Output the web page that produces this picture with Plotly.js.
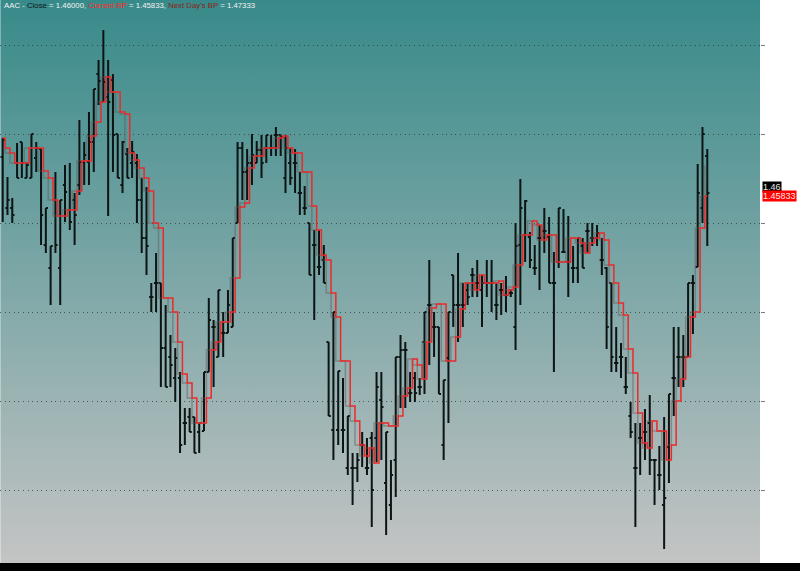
<!DOCTYPE html>
<html>
<head>
<meta charset="utf-8">
<script src="https://cdn.plot.ly/plotly-3.0.1.min.js"></script>
<style>
  html, body { margin: 0; padding: 0; background: #ffffff; }
  #wrap { position: relative; width: 800px; height: 563px; background: #ffffff; }
  #bg { position: absolute; left: 0; top: 0; width: 760px; height: 563px;
        background: linear-gradient(to bottom, rgb(56,138,138) 0%, rgb(196,196,196) 100%);
        box-shadow: inset 1px 0 0 rgba(255,255,255,0.35); }
  #chart { position: absolute; left: 0; top: 0; width: 800px; height: 563px; }
  #foot { width: 800px; height: 8px; background: #000000; }
</style>
</head>
<body>
<div id="wrap"><div id="bg"></div><div id="chart"></div></div>
<div id="foot"></div>
<script>
const ticker = "AAC";

const openP = [1.478,1.4525,1.4525,1.475,1.4855,1.4675,1.4675,1.4775,1.482,1.434,
1.4225,1.4565,1.4225,1.464,1.4515,1.4565,1.464,1.4755,1.4755,1.4855,
1.5195,1.5055,1.508,1.5165,1.4895,1.464,1.4795,1.475,1.475,1.4565,
1.4375,1.408,1.415,1.415,1.3825,1.378,1.3675,1.3675,1.345,1.348,
1.348,1.3405,1.341,1.3705,1.393,1.378,1.39,1.39,1.393,1.445,
1.4825,1.4705,1.475,1.475,1.4815,1.4825,1.4825,1.489,1.489,1.4675,
1.475,1.475,1.46,1.4525,1.445,1.434,1.423,1.4265,1.3855,1.3415,
1.3415,1.3415,1.3225,1.3225,1.3225,1.334,1.3225,1.3375,1.3375,1.3565,
1.315,1.304,1.3265,1.378,1.3815,1.36,1.3675,1.363,1.3855,1.404,
1.393,1.393,1.334,1.3775,1.419,1.404,1.404,1.4115,1.419,1.415,
1.4115,1.415,1.415,1.404,1.4115,1.409,1.41,1.393,1.434,1.439,
1.438,1.4225,1.4375,1.441,1.438,1.415,1.4255,1.4305,1.4255,1.4225,
1.4225,1.4335,1.441,1.4375,1.4375,1.4265,1.4225,1.415,1.375,1.378,
1.363,1.3485,1.3225,1.3375,1.3405,1.345,1.3265,1.319,1.304,1.333,
1.3675,1.378,1.378,1.378,1.415,1.423,1.4525,1.4785];

const highP = [1.4875,1.468,1.4575,1.485,1.4855,1.4755,1.4895,1.4855,1.482,1.4525,
1.4335,1.4705,1.4565,1.474,1.475,1.46,1.4965,1.4855,1.5005,1.512,
1.5265,1.5415,1.5265,1.5195,1.4895,1.486,1.4825,1.486,1.4795,1.4675,
1.463,1.415,1.43,1.415,1.404,1.389,1.3825,1.3705,1.3525,1.3525,
1.348,1.345,1.3705,1.4075,1.3965,1.4115,1.4005,1.4115,1.4375,1.4855,
1.4855,1.482,1.4895,1.486,1.489,1.489,1.489,1.493,1.489,1.489,
1.4825,1.482,1.4705,1.4635,1.445,1.4415,1.4415,1.434,1.3855,1.4005,
1.371,1.3675,1.3485,1.33,1.33,1.3405,1.3375,1.3405,1.3705,1.3705,
1.3405,1.3265,1.378,1.389,1.3855,1.3705,1.3705,1.3675,1.4005,1.4265,
1.4005,1.393,1.3665,1.4005,1.419,1.43,1.415,1.415,1.4225,1.4265,
1.419,1.4265,1.4265,1.415,1.415,1.4185,1.412,1.445,1.467,1.4565,
1.4405,1.434,1.444,1.4525,1.448,1.4305,1.4525,1.452,1.4485,1.4335,
1.4375,1.4375,1.445,1.445,1.444,1.4375,1.423,1.415,1.393,1.385,
1.378,1.3555,1.345,1.345,1.352,1.359,1.3265,1.3335,1.348,1.3595,
1.393,1.393,1.389,1.415,1.419,1.4745,1.493,1.482];

const lowP = [1.4455,1.449,1.445,1.4675,1.4675,1.4675,1.4675,1.4705,1.434,1.43,
1.404,1.43,1.404,1.4455,1.4415,1.434,1.459,1.464,1.464,1.4705,
1.504,1.5055,1.4485,1.4705,1.4675,1.46,1.4675,1.4675,1.445,1.43,
1.419,1.4005,1.4005,1.363,1.363,1.363,1.3555,1.33,1.334,1.3405,
1.33,1.33,1.341,1.3705,1.363,1.378,1.378,1.39,1.393,1.445,
1.4565,1.4565,1.464,1.475,1.4675,1.475,1.4785,1.4785,1.4785,1.46,
1.464,1.46,1.449,1.449,1.419,1.3965,1.419,1.415,1.3485,1.3265,
1.334,1.33,1.319,1.304,1.3155,1.323,1.319,1.293,1.3255,1.3265,
1.289,1.2965,1.308,1.3525,1.3525,1.3555,1.3555,1.359,1.3595,1.374,
1.378,1.3595,1.3265,1.345,1.393,1.3855,1.393,1.404,1.408,1.408,
1.393,1.408,1.4005,1.3965,1.399,1.4005,1.408,1.3815,1.404,1.4255,
1.4225,1.419,1.4115,1.43,1.415,1.3705,1.4225,1.43,1.408,1.415,
1.415,1.4225,1.43,1.4335,1.4335,1.419,1.382,1.3705,1.3705,1.3675,
1.3595,1.3375,1.293,1.319,1.3265,1.319,1.304,1.3115,1.282,1.315,
1.3485,1.363,1.363,1.378,1.3895,1.423,1.445,1.4335];

const closeP = [1.4865,1.4565,1.449,1.4675,1.475,1.474,1.4895,1.4825,1.449,1.4525,
1.4335,1.434,1.4565,1.4605,1.4455,1.449,1.4755,1.479,1.4855,1.512,
1.516,1.5155,1.5055,1.489,1.4675,1.4855,1.4675,1.4805,1.4565,1.4375,
1.4335,1.408,1.415,1.3825,1.363,1.374,1.3775,1.334,1.345,1.3405,
1.33,1.345,1.3705,1.3965,1.393,1.4115,1.39,1.404,1.4375,1.4825,
1.4705,1.475,1.479,1.4815,1.475,1.489,1.4825,1.489,1.488,1.4825,
1.4675,1.475,1.46,1.4525,1.419,1.434,1.423,1.415,1.3485,1.4005,
1.371,1.3415,1.3485,1.3225,1.3265,1.334,1.3225,1.3115,1.363,1.353,
1.3405,1.319,1.378,1.3815,1.3815,1.36,1.36,1.363,1.4005,1.404,
1.393,1.3595,1.3665,1.4005,1.404,1.404,1.404,1.408,1.419,1.415,
1.415,1.415,1.415,1.404,1.4115,1.409,1.41,1.4335,1.4525,1.456,
1.4265,1.4225,1.4375,1.441,1.415,1.415,1.4525,1.4305,1.4255,1.4225,
1.4375,1.4225,1.441,1.4375,1.44,1.4265,1.393,1.378,1.375,1.378,
1.363,1.3405,1.3225,1.3375,1.3405,1.3265,1.3265,1.319,1.3075,1.3595,
1.3675,1.378,1.378,1.415,1.415,1.46,1.4895,1.46];

const currentBP = [1.4875,1.4825,1.48,1.475,1.475,1.475,1.4825,1.4825,1.4825,1.471,
1.4675,1.4565,1.4485,1.4485,1.4515,1.4515,1.461,1.476,1.476,1.4885,
1.4955,1.5055,1.518,1.5105,1.5105,1.5005,1.4995,1.48,1.4765,1.4725,
1.4675,1.461,1.445,1.4425,1.4075,1.4075,1.4005,1.3855,1.3695,1.365,
1.3575,1.345,1.345,1.3575,1.3815,1.3855,1.3955,1.3955,1.4005,1.4175,
1.453,1.455,1.4725,1.4785,1.4785,1.4825,1.4825,1.4825,1.4875,1.4885,
1.4825,1.48,1.48,1.4705,1.4705,1.4535,1.4415,1.429,1.4265,1.41,
1.398,1.376,1.376,1.3535,1.346,1.334,1.3285,1.3325,1.325,1.345,
1.345,1.3435,1.3435,1.3485,1.3585,1.3625,1.377,1.374,1.367,1.3855,
1.4025,1.4045,1.4045,1.376,1.376,1.388,1.402,1.415,1.415,1.4115,
1.419,1.415,1.415,1.415,1.416,1.409,1.4115,1.413,1.424,1.439,
1.439,1.446,1.444,1.4365,1.439,1.439,1.4255,1.4255,1.4255,1.4375,
1.4375,1.435,1.43,1.435,1.4375,1.44,1.4365,1.424,1.415,1.405,
1.399,1.382,1.37,1.35,1.335,1.3325,1.346,1.341,1.341,1.3265,
1.334,1.356,1.367,1.378,1.398,1.4005,1.4425,1.45833];

const nextDayBP = [1.4825,1.48,1.475,1.475,1.475,1.4825,1.4825,1.4825,1.471,1.4675,
1.4565,1.4485,1.4485,1.4515,1.4515,1.461,1.476,1.476,1.4885,1.4955,
1.5055,1.518,1.5105,1.5105,1.5005,1.4995,1.48,1.4765,1.4725,1.4675,
1.461,1.445,1.4425,1.4075,1.4075,1.4005,1.3855,1.3695,1.365,1.3575,
1.345,1.345,1.3575,1.3815,1.3855,1.3955,1.3955,1.4005,1.4175,1.453,
1.455,1.4725,1.4785,1.4785,1.4825,1.4825,1.4825,1.4875,1.4885,1.4825,
1.48,1.48,1.4705,1.4705,1.4535,1.4415,1.429,1.4265,1.41,1.398,
1.376,1.376,1.3535,1.346,1.334,1.3285,1.3325,1.325,1.345,1.345,
1.3435,1.3435,1.3485,1.3585,1.3625,1.377,1.374,1.367,1.3855,1.4025,
1.4045,1.4045,1.376,1.376,1.388,1.402,1.415,1.415,1.4115,1.419,
1.415,1.415,1.415,1.416,1.409,1.4115,1.413,1.424,1.439,1.439,
1.446,1.444,1.4365,1.439,1.439,1.4255,1.4255,1.4255,1.4375,1.4375,
1.435,1.43,1.435,1.4375,1.44,1.4365,1.424,1.415,1.405,1.399,
1.382,1.37,1.35,1.335,1.3325,1.346,1.341,1.341,1.3265,1.334,
1.356,1.367,1.378,1.398,1.4005,1.4425,1.45833,1.47333];

const idx = openP.map((_, i) => i);
const n = idx.length;
const lastClose = closeP[n - 1];
const lastBP = currentBP[n - 1];
const lastNext = nextDayBP[n - 1];

const traces = [
  { type: 'scatter', mode: 'lines', x: idx, y: nextDayBP, name: "Next Day's BP",
    line: { color: 'rgba(95,85,85,0.45)', width: 1.5, shape: 'hvh' }, hoverinfo: 'skip' },
  { type: 'scatter', mode: 'lines', x: idx, y: currentBP, name: 'Current BP',
    line: { color: '#ec2a2a', width: 1.5, shape: 'hvh' }, hoverinfo: 'skip' },
  { type: 'ohlc', x: idx, open: openP, high: highP, low: lowP, close: closeP, name: ticker,
    tickwidth: 0.45,
    increasing: { line: { color: '#0d1414', width: 2 } },
    decreasing: { line: { color: '#0d1414', width: 2 } }, hoverinfo: 'skip' }
];

const W = 'color:#f2f2f2';
const titleText =
  '<span style="' + W + '">' + ticker + ' - </span>' +
  '<span style="color:#0a1a1a">Close</span>' +
  '<span style="' + W + '"> = ' + lastClose.toFixed(5) + ', </span>' +
  '<span style="color:#ff2a2a">Current BP</span>' +
  '<span style="' + W + '"> = ' + lastBP.toFixed(5) + ', </span>' +
  '<span style="color:#8a2418">Next Day\'s BP</span>' +
  '<span style="' + W + '"> = ' + lastNext.toFixed(5) + '</span>';

const layout = {
  width: 800, height: 563,
  margin: { l: 0, r: 40, t: 0, b: 0, pad: 0 },
  paper_bgcolor: 'rgba(0,0,0,0)',
  plot_bgcolor: 'rgba(0,0,0,0)',
  showlegend: false,
  xaxis: { range: [-0.563, 158.0], showgrid: false, zeroline: false, showticklabels: false,
           ticks: '', showline: false, rangeslider: { visible: false }, fixedrange: true },
  yaxis: { side: 'right', range: [1.275, 1.5565], tick0: 1.445, dtick: 0.0445, tickmode: 'linear',
           showgrid: true, gridcolor: 'rgba(45,55,55,0.75)', gridwidth: 1, griddash: '1px,3.6px',
           zeroline: false, showticklabels: false, ticks: 'outside', ticklen: 4, tickwidth: 1,
           tickcolor: '#7a7a7a', showline: false, fixedrange: true },
  annotations: [
    { xref: 'paper', yref: 'paper', x: 0.002, y: 1, xanchor: 'left', yanchor: 'top',
      text: titleText, showarrow: false, align: 'left', yshift: 1,
      font: { family: 'Liberation Sans, Arial, sans-serif', size: 7.8, color: '#f2f2f2' } },
    { xref: 'paper', yref: 'y', x: 1, y: lastClose, xanchor: 'left', yanchor: 'middle',
      xshift: 2, yshift: 6, text: String(lastClose), showarrow: false, bgcolor: '#000000',
      borderpad: 0, font: { family: 'Liberation Sans, Arial, sans-serif', size: 9, color: '#e8e8e8' } },
    { xref: 'paper', yref: 'y', x: 1, y: lastBP, xanchor: 'left', yanchor: 'middle',
      xshift: 2, yshift: 0, text: String(lastBP), showarrow: false, bgcolor: '#ff0000',
      borderpad: 0, font: { family: 'Liberation Sans, Arial, sans-serif', size: 9, color: '#ffe6e6' } }
  ]
};

Plotly.newPlot('chart', traces, layout, { displayModeBar: false, staticPlot: true });
</script>
</body>
</html>
